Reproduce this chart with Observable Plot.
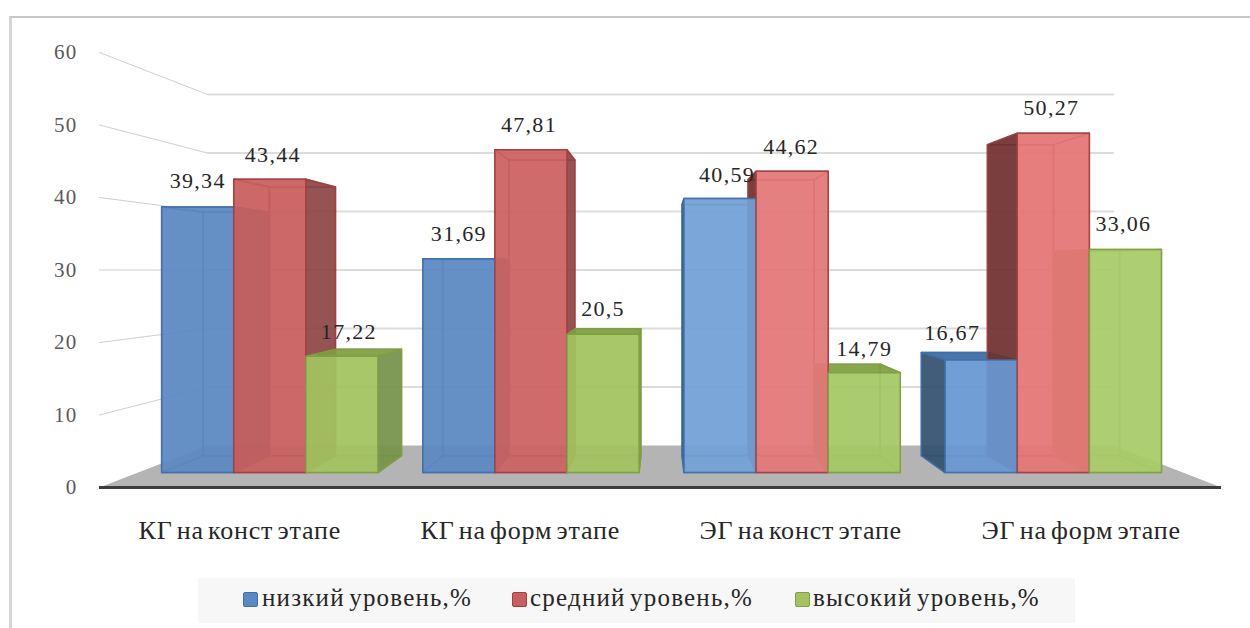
<!DOCTYPE html>
<html lang="ru">
<head>
<meta charset="utf-8">
<script src="https://cdn.jsdelivr.net/npm/d3@7"></script>
<script src="https://cdn.jsdelivr.net/npm/@observablehq/plot@0.6"></script>
<style>
  html, body { margin: 0; background: #fff; }
  #frame { position: relative; width: 1250px; height: 628px; overflow: hidden; }
  #border { position: absolute; left: 9px; top: 16px; width: 1300px; height: 700px; box-sizing: border-box;
            border-top: 2px solid #c6c6c6; border-left: 3px solid #d6d6d6; }
  #chart { position: absolute; left: 0; top: 0; }
  #chart svg text { letter-spacing: 1.3px; }
  #chart svg [aria-label="x-axis tick label"] text { letter-spacing: 0.8px; word-spacing: -3px; }
  #legend { position: absolute; left: 198px; top: 578px; width: 877px; height: 45px; background: #f7f7f7;
            font: 25px "Liberation Serif", serif; color: #262626; letter-spacing: 1.2px; word-spacing: -3px; }
  #legend span { position: absolute; top: 6px; white-space: nowrap; }
  #legend i { position: absolute; top: 14px; width: 15px; height: 15px; border-radius: 2px; box-sizing: border-box; border: 1px solid; }
</style>
</head>
<body>
<div id="frame">
  <div id="border"></div>
  <div id="chart"></div>
  <div id="legend"></div>
</div>
<script>
const groups = ["КГ на конст этапе", "КГ на форм этапе", "ЭГ на конст этапе", "ЭГ на форм этапе"];
const levels = ["низкий уровень,%", "средний уровень,%", "высокий уровень,%"];

const low = [39.34, 31.69, 40.59, 16.67];
const mid = [43.44, 47.81, 44.62, 50.27];
const high = [17.22, 20.5, 14.79, 33.06];
const valueLabels = [
  ["39,34", "31,69", "40,59", "16,67"],
  ["43,44", "47,81", "44,62", "50,27"],
  ["17,22", "20,5", "14,79", "33,06"]
];
const series = [low, mid, high];
const yTicks = [0, 10, 20, 30, 40, 50, 60];

// Face shading per level: front by group, then side, top and edge tones.
const frontTone = [
  ["#5b89c2", "#5b89c2", "#73a0d6", "#6898d2"],
  ["#c85f5f", "#cb6262", "#e37878", "#e57676"],
  ["#a2c360", "#a2c360", "#a5c765", "#a9cb68"]
];
const leftTone = ["#33506f", "#6f3030", "#6f8c3f"];
const rightTone = ["#44658c", "#8c4646", "#75924a"];
const topTone = ["#3c6ba3", "#a33c3c", "#7f9e40"];
const edgeTone = ["#3f6fa6", "#a04040", "#7f9e45"];

// Nudges that keep each value label clear of its neighbours.
const labelShift = [
  [[0, -26], [0, -25], [7, -24], [-29, -27]],
  [[3, -24], [-2, -25], [-1, -24], [-2, -25]],
  [[7, -24], [0, -25], [0, -24], [-2, -25]]
];

// Perspective of the chart box: depth 0 is the front plane, depth 1 the back wall.
const centerX = 2, centerV = 29.93, shrink = 0.193;
const project = (x, v, d) => {
  const s = 1 - shrink * d;
  return {x: centerX + (x - centerX) * s, y: centerV + (v - centerV) * s};
};
const barFront = 0.357, barBack = 0.76, barWidth = 0.276, groupInset = 0.09;

function polygon(rows, face, corners, fill, stroke) {
  for (const [x, v, d] of corners) rows.push({face, ...project(x, v, d), fill, stroke});
}

const floorRows = [];
polygon(floorRows, "floor", [[0, 0, 0], [4, 0, 0], [4, 0, 1], [0, 0, 1]], "#b4b4b4", "none");

const wallRows = [], backRows = [];
for (const v of yTicks.slice(1)) {
  wallRows.push({v, ...project(0, v, 0)}, {v, ...project(0, v, 1)});
  backRows.push({v, ...project(0, v, 1)}, {v, ...project(4, v, 1)});
}

// Hidden faces show faintly through the glass front; faces turned to the viewer are solid.
const innerRows = [], outerRows = [], frontRows = [];
series.forEach((vals, j) => vals.forEach((val, i) => {
  const x0 = i + groupInset + j * barWidth, x1 = x0 + barWidth;
  const f = barFront, b = barBack;
  const id = `${j}-${i}`;
  const base = frontTone[j][i], edge = edgeTone[j];
  polygon(innerRows, `${id}-back`, [[x0, 0, b], [x1, 0, b], [x1, val, b], [x0, val, b]], base, edge);
  polygon(innerRows, `${id}-floor`, [[x0, 0, f], [x1, 0, f], [x1, 0, b], [x0, 0, b]], base, edge);
  polygon(x0 > centerX ? outerRows : innerRows, `${id}-left`, [[x0, 0, f], [x0, 0, b], [x0, val, b], [x0, val, f]], x0 > centerX ? leftTone[j] : base, edge);
  polygon(x1 < centerX ? outerRows : innerRows, `${id}-right`, [[x1, 0, f], [x1, 0, b], [x1, val, b], [x1, val, f]], x1 < centerX ? rightTone[j] : base, edge);
  polygon(val < centerV ? outerRows : innerRows, `${id}-top`, [[x0, val, f], [x1, val, f], [x1, val, b], [x0, val, b]], val < centerV ? topTone[j] : base, edge);
  polygon(frontRows, `${id}-front`, [[x0, 0, f], [x1, 0, f], [x1, val, f], [x0, val, f]], base, edge);
}));

const serif = "Liberation Serif";
const faceMark = (rows, fillOpacity) => Plot.line(rows, {
  x: "x", y: "y", z: "face", fill: d => d.fill, stroke: d => d.stroke,
  fillOpacity, strokeWidth: 1.5, strokeOpacity: 0.9, curve: "linear-closed"
});

// One text mark per value label, since dx and dy are constant for a mark.
const valueMarks = series.flatMap((vals, j) => vals.map((val, i) => Plot.text(
  [project(i + groupInset + (j + 0.5) * barWidth, val, barFront)],
  {
    x: "x", y: "y", text: () => valueLabels[j][i],
    dx: labelShift[j][i][0], dy: labelShift[j][i][1],
    fontFamily: serif, fontSize: 22, fill: "#262626"
  }
)));

const plot = Plot.plot({
  width: 1250,
  height: 570,
  marginLeft: 99,
  marginRight: 29,
  marginTop: 52,
  marginBottom: 83,
  x: {domain: [0, 4]},
  y: {domain: [0, 60]},
  style: {background: "transparent", overflow: "visible"},
  marks: [
    Plot.line(wallRows, {x: "x", y: "y", z: "v", stroke: "#cfcfcf", strokeWidth: 1}),
    Plot.line(backRows, {x: "x", y: "y", z: "v", stroke: "#dcdcdc", strokeWidth: 2}),
    faceMark(floorRows, 1),
    Plot.ruleY([0], {x1: 0, x2: 4, stroke: "#3c3c3c", strokeWidth: 3}),
    faceMark(innerRows, 0.2),
    faceMark(outerRows, 0.92),
    faceMark(frontRows, 0.93),
    Plot.axisY({
      ticks: yTicks, tickSize: 0, tickPadding: 22, label: null,
      fontFamily: serif, fontSize: 21, fill: "#595959"
    }),
    Plot.axisX({
      ticks: [0.5, 1.5, 2.5, 3.5], tickFormat: t => groups[Math.floor(t)],
      tickSize: 0, tickPadding: 33, label: null,
      fontFamily: serif, fontSize: 26, fill: "#262626"
    }),
    ...valueMarks
  ]
});
document.getElementById("chart").append(plot);

// Legend row beneath the chart.
const legend = document.getElementById("legend");
const swatchLeft = [45, 314, 597], textLeft = [64, 332, 615];
levels.forEach((name, j) => {
  const swatch = document.createElement("i");
  swatch.style.left = swatchLeft[j] + "px";
  swatch.style.background = frontTone[j][0];
  swatch.style.borderColor = edgeTone[j];
  const text = document.createElement("span");
  text.style.left = textLeft[j] + "px";
  text.textContent = name;
  legend.append(swatch, text);
});
</script>
</body>
</html>
